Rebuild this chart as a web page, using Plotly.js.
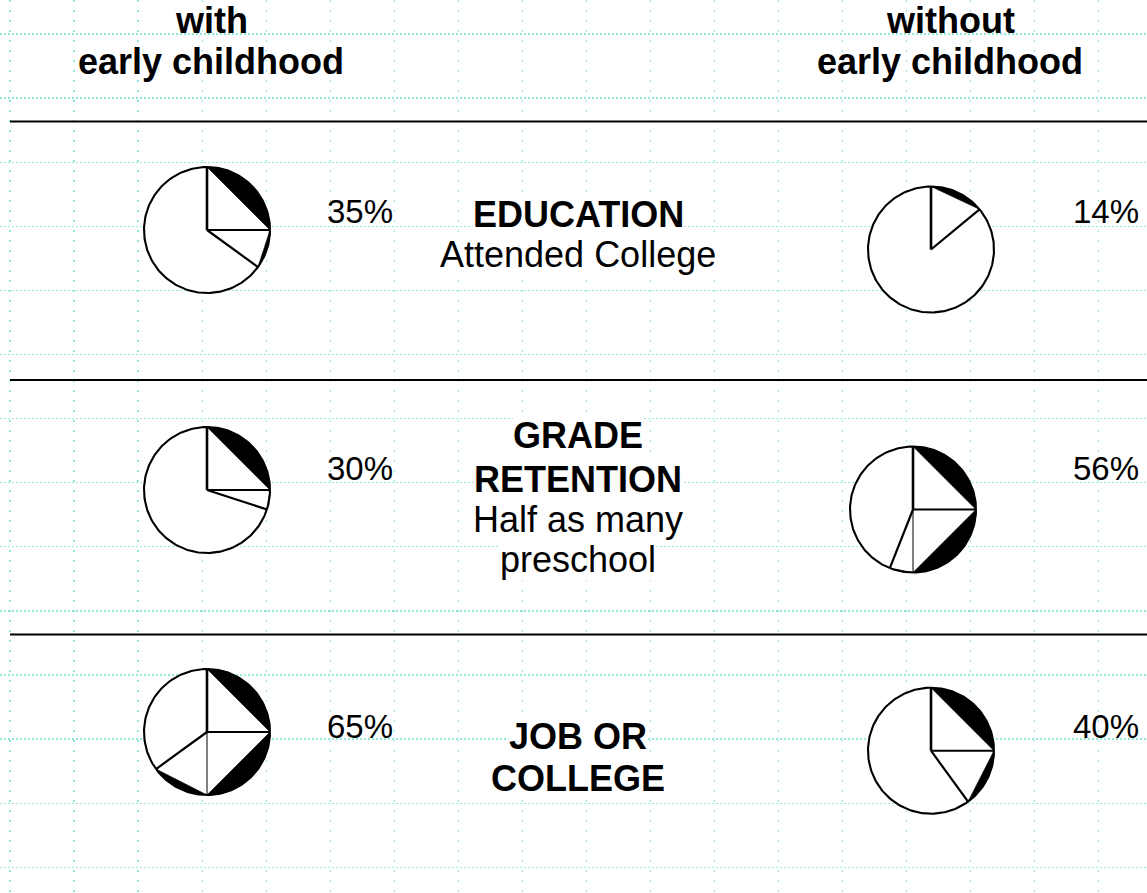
<!DOCTYPE html>
<html>
<head>
<meta charset="utf-8">
<script src="https://cdn.plot.ly/plotly-3.0.1.min.js"></script>
<style>html,body{margin:0;padding:0;background:#fff;}#chart{width:1147px;height:893px;}</style>
</head>
<body>
<div id="chart"></div>
<script>
// ---------------- DATA ----------------
const categories = ["EDUCATION", "GRADE RETENTION", "JOB OR COLLEGE"];
const categoryLines = [["EDUCATION"], ["GRADE", "RETENTION"], ["JOB OR", "COLLEGE"]];
const subtitleLines = [["Attended College"], ["Half as many", "preschool"], []];
const withEarlyChildhood = [35, 30, 65];      // percent
const withoutEarlyChildhood = [14, 56, 40];   // percent
const columnHeaders = [["with", "early childhood"], ["without", "early childhood"]];

// ---------------- LAYOUT POSITIONS (pixel-like data space) ----------------
const R = 63;
const leftCenters  = [[207, 230], [207, 490], [207, 732]];
const rightCenters = [[931, 249.5], [913, 509.5], [931, 750.7]];
const pctLeftX = 325, pctRightX = 1141;
const pctY = [211.8, 468, 726];
const centerX = 578;
const catBaselines = [[227.3], [448.3, 491.7], [749.3, 791]];
const subBaselines = [[266.7], [531.7, 571.7], []];
const separatorsY = [121.5, 380, 634.5];
const headerX = [211, 950];
const headerBaselines = [33, 74.5];

const FONT = "Liberation Sans, Arial, sans-serif";
const BIG = 36, PCT = 33;

function pt(cx, cy, r, deg) {
  const t = deg * Math.PI / 180;
  return [cx + r * Math.sin(t), cy - r * Math.cos(t)];
}
function arc(cx, cy, r, a0, a1) {
  const xs = [], ys = [];
  const n = Math.max(2, Math.ceil(Math.abs(a1 - a0) / 1.5));
  for (let i = 0; i <= n; i++) {
    const p = pt(cx, cy, r, a0 + (a1 - a0) * i / n);
    xs.push(p[0]); ys.push(p[1]);
  }
  return [xs, ys];
}

const traces = [];
function pie(cx, cy, value) {
  const a = value / 100 * 360;
  // white disc
  const c = arc(cx, cy, R, 0, 360);
  traces.push({x: c[0], y: c[1], mode: 'lines', fill: 'toself', fillcolor: '#ffffff',
    line: {width: 0, color: 'rgba(0,0,0,0)'}, hoverinfo: 'skip', showlegend: false});
  // chord segments (black) for each quarter chunk of the value
  const bps = [0];
  [90, 180, 270].forEach(b => { if (b < a) bps.push(b); });
  bps.push(a);
  for (let i = 0; i < bps.length - 1; i++) {
    const s = arc(cx, cy, R, bps[i], bps[i + 1]);
    s[0].push(s[0][0]); s[1].push(s[1][0]);
    traces.push({x: s[0], y: s[1], mode: 'lines', fill: 'toself', fillcolor: '#000000',
      line: {width: 0.6, color: '#000000'}, hoverinfo: 'skip', showlegend: false});
  }
  // radii
  const widths = {0: 2.6, 90: 2, 180: 1, 270: 1};
  for (let i = 0; i < bps.length; i++) {
    const ang = bps[i];
    const w = (i === bps.length - 1) ? 2.2 : widths[ang];
    const p = pt(cx, cy, R, ang);
    traces.push({x: [cx, p[0]], y: [cy, p[1]], mode: 'lines',
      line: {width: w, color: '#000000'}, hoverinfo: 'skip', showlegend: false});
  }
  // outline
  traces.push({x: c[0], y: c[1], mode: 'lines',
    line: {width: 2.1, color: '#000000'}, hoverinfo: 'skip', showlegend: false});
}

for (let i = 0; i < categories.length; i++) {
  pie(leftCenters[i][0], leftCenters[i][1], withEarlyChildhood[i]);
  pie(rightCenters[i][0], rightCenters[i][1], withoutEarlyChildhood[i]);
}

// separators
separatorsY.forEach(y => {
  traces.push({x: [10, 1147], y: [y, y], mode: 'lines', line: {width: 2.2, color: '#000000'},
    hoverinfo: 'skip', showlegend: false});
});

const annotations = [];
function ann(text, x, baseline, size, anchor, bg) {
  const a = {text: text, x: x, y: baseline - 0.35 * size, xref: 'x', yref: 'y',
    xanchor: anchor, yanchor: 'middle', showarrow: false,
    font: {family: FONT, size: size, color: '#000000'}, borderpad: 0};
  if (bg) a.bgcolor = '#ffffff';
  annotations.push(a);
}
// headers
columnHeaders.forEach((lines, k) => {
  lines.forEach((t, j) => ann('<b>' + t + '</b>', headerX[k], headerBaselines[j], BIG, 'center', false));
});
// center texts (bottom lines first so upper glyphs stay on top)
for (let i = 0; i < categories.length; i++) {
  const items = [];
  categoryLines[i].forEach((t, j) => items.push(['<b>' + t + '</b>', catBaselines[i][j]]));
  subtitleLines[i].forEach((t, j) => items.push([t, subBaselines[i][j]]));
  items.reverse().forEach(it => ann(it[0], centerX, it[1], BIG, 'center', true));
  // percentages
  annotations.push({text: withEarlyChildhood[i] + '%', x: pctLeftX, y: pctY[i], xref: 'x', yref: 'y',
    xanchor: 'left', yanchor: 'middle', showarrow: false, font: {family: FONT, size: PCT, color: '#000'}});
  annotations.push({text: withoutEarlyChildhood[i] + '%', x: pctRightX, y: pctY[i], xref: 'x', yref: 'y',
    xanchor: 'right', yanchor: 'middle', showarrow: false, font: {family: FONT, size: PCT, color: '#000'}});
}

const GRID = '#92e9db';
const layout = {
  width: 1147, height: 893, autosize: false,
  margin: {l: 0, r: 0, t: 0, b: 0, pad: 0},
  paper_bgcolor: '#ffffff', plot_bgcolor: '#ffffff',
  showlegend: false,
  xaxis: {range: [0, 1147], showgrid: true, gridcolor: GRID, gridwidth: 1.3, griddash: '2px,8px',
    tickmode: 'linear', tick0: 10, dtick: 64.05, showticklabels: false, ticks: '',
    zeroline: false, showline: false, fixedrange: true},
  yaxis: {range: [893, 0], showgrid: true, gridcolor: GRID, gridwidth: 1.3, griddash: '1.5px,2.5px',
    tickmode: 'linear', tick0: 34, dtick: 64.1, showticklabels: false, ticks: '',
    zeroline: false, showline: false, fixedrange: true},
  annotations: annotations
};

Plotly.newPlot('chart', traces, layout, {staticPlot: true, displayModeBar: false});
</script>
</body>
</html>
